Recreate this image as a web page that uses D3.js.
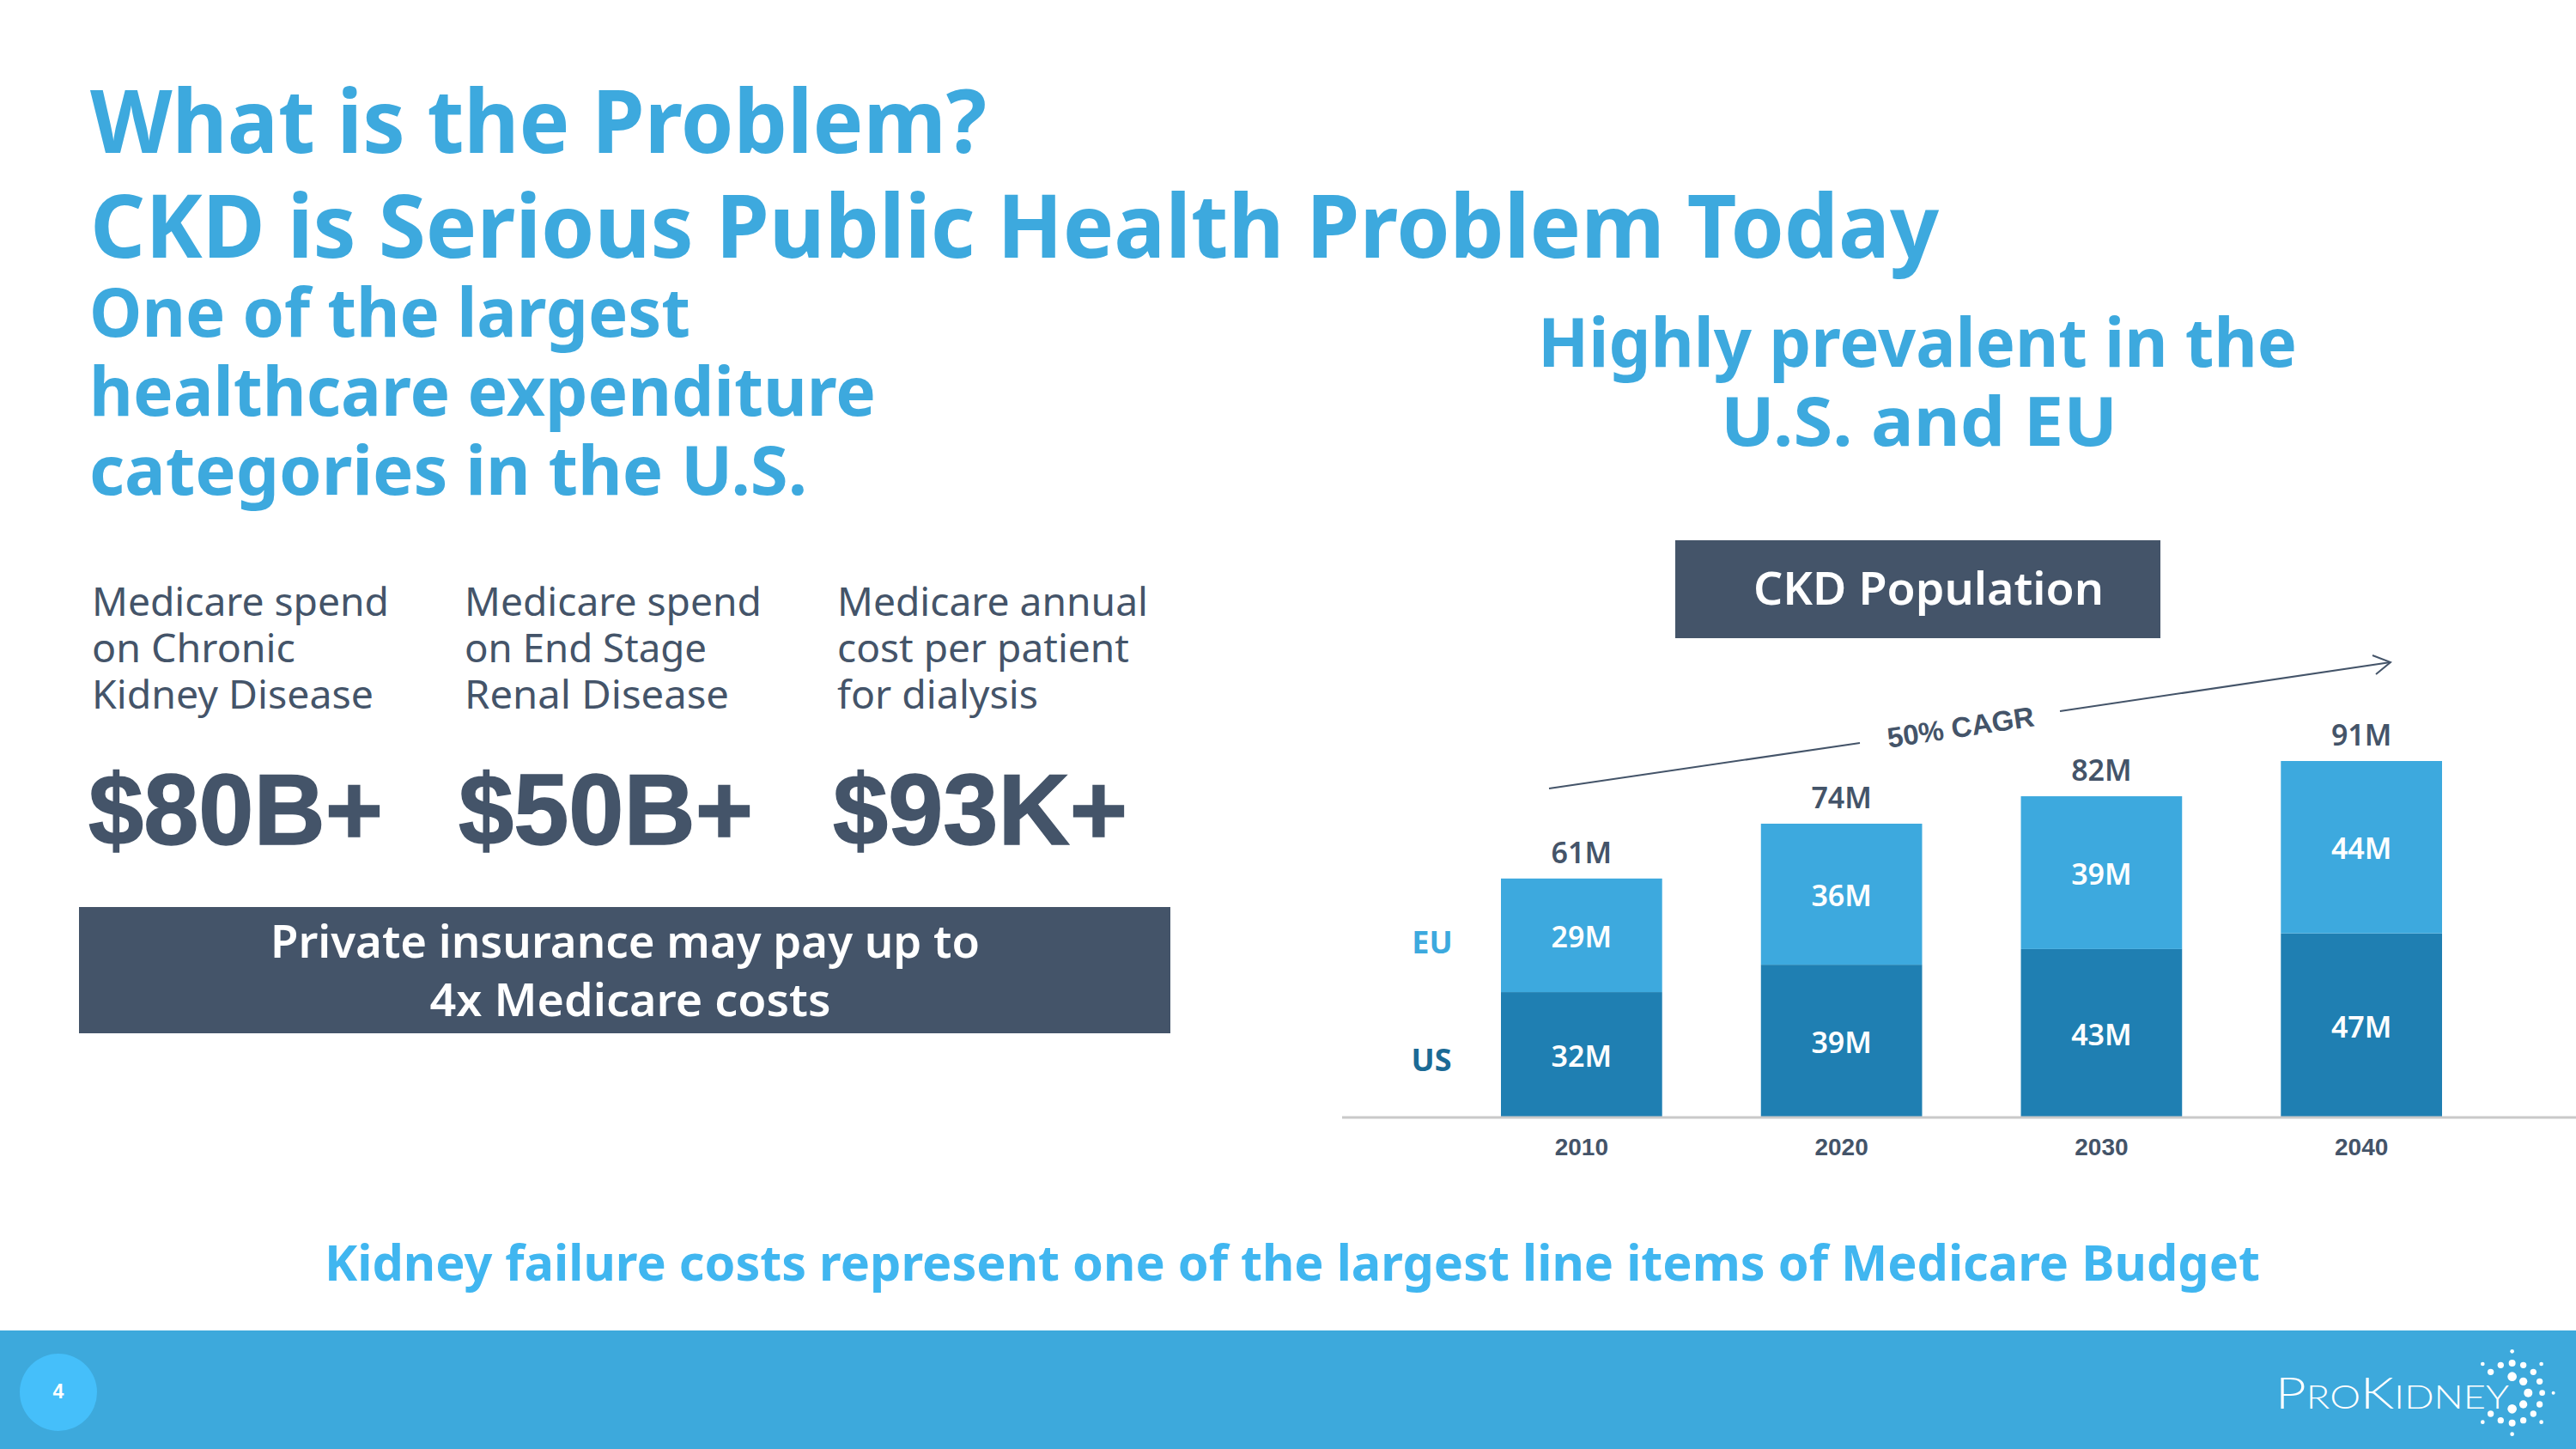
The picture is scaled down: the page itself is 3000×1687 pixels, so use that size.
<!DOCTYPE html>
<html><head><meta charset="utf-8">
<script src="https://cdn.jsdelivr.net/npm/d3@7/dist/d3.min.js"></script>
<style>html,body{margin:0;padding:0;background:#fff;overflow:hidden}svg{display:block}</style>
</head><body><svg id="c" width="3000" height="1687" viewBox="0 0 3000 1687"></svg>
<script>
const years = ["2010","2020","2030","2040"];
const usValues = [32,39,43,47];
const euValues = [29,36,39,44];
const totalLabels = ["61M","74M","82M","91M"];
const seriesNames = ["US","EU"];
const statCaptions = [
  ["Medicare spend","on Chronic","Kidney Disease"],
  ["Medicare spend","on End Stage","Renal Disease"],
  ["Medicare annual","cost per patient","for dialysis"]];
const statValues = ["$80B+","$50B+","$93K+"];

const BLUE="#3DA9DE", SLATE="#445469", DARKBLUE="#1F7FB2";
const SANS="'Noto Sans',sans-serif", ARIAL="'Liberation Sans',Arial,sans-serif";
const svg=d3.select("#c");
function T(s,x,y,o={}){
  const t=svg.append("text").attr("x",x).attr("y",y).text(s)
    .attr("font-family",o.f||SANS).attr("font-size",o.s||40).attr("font-weight",o.w||600)
    .attr("fill",o.c||BLUE).attr("text-anchor",o.a||"start");
  if(o.len) t.attr("textLength",o.len).attr("lengthAdjust","spacingAndGlyphs");
  return t;
}
// headings
T("What is the Problem?",105,178,{s:103,w:700,len:1044});
T("CKD is Serious Public Health Problem Today",105,300,{s:103,w:700,len:2153});
[["One of the largest",392,700],["healthcare expenditure",484,916],["categories in the U.S.",576,836]]
  .forEach(d=>T(d[0],104,d[1],{s:78,w:700,len:d[2]}));
T("Highly prevalent in the",2233,427,{s:78,w:700,a:"middle",len:884});
T("U.S. and EU",2235,519,{s:78,w:700,a:"middle",len:462});

// stats
const colX=[107,541,975], capW=[[346,237,328],[346,282,308],[362,340,234]];
statCaptions.forEach((c,i)=>c.forEach((l,j)=>T(l,colX[i],717+j*54,{s:46,w:400,c:SLATE,len:capW[i][j]})));
const bigX=[103,534,970];
statValues.forEach((v,i)=>T(v,bigX[i],983,{f:ARIAL,s:117,w:700,c:SLATE,len:343}).attr("stroke",SLATE).attr("stroke-width",1.5));

svg.append("rect").attr("x",92).attr("y",1056).attr("width",1271).attr("height",147).attr("fill",SLATE);
T("Private insurance may pay up to",728,1115,{s:52,c:"#fff",a:"middle",len:826});
T("4x Medicare costs",734,1183,{s:52,c:"#fff",a:"middle",len:467});

svg.append("rect").attr("x",1951).attr("y",629).attr("width",565).attr("height",114).attr("fill",SLATE);
T("CKD Population",2246,704,{s:52,c:"#fff",a:"middle",len:408});

// chart
const x=d3.scaleBand().domain(years).range([1748,2844]).paddingInner(0.38).paddingOuter(0);
const y=d3.scaleLinear().domain([0,91]).range([1301,886]);
const rows=years.map((yr,i)=>({year:yr,US:usValues[i],EU:euValues[i],total:totalLabels[i]}));
const stack=d3.stack().keys(seriesNames)(rows);
const fills={US:DARKBLUE,EU:BLUE};
svg.append("g").selectAll("g").data(stack).join("g").attr("fill",d=>fills[d.key])
  .selectAll("rect").data(d=>d).join("rect")
  .attr("x",d=>x(d.data.year)).attr("width",x.bandwidth())
  .attr("y",d=>y(d[1])).attr("height",d=>y(d[0])-y(d[1]));
stack.forEach(s=>s.forEach(d=>{
  T((d[1]-d[0])+"M",x(d.data.year)+x.bandwidth()/2,(y(d[0])+y(d[1]))/2+1,
    {s:34,c:"#fff",a:"middle"}).attr("dominant-baseline","central");
}));
stack[1].forEach(d=>T(d.data.total,x(d.data.year)+x.bandwidth()/2,y(d[1])-18,{s:34,c:SLATE,a:"middle"}));

const axis=d3.axisBottom(x).tickSize(0).tickPadding(24);
const ag=svg.append("g").attr("transform","translate(0,"+y(0)+")").call(axis);
ag.select(".domain").remove();
ag.selectAll("text").attr("font-family",ARIAL).attr("font-size",28).attr("font-weight",700).attr("fill",SLATE);
svg.append("line").attr("x1",1563).attr("x2",3000).attr("y1",y(0)).attr("y2",y(0)).attr("stroke","#c9c9c9").attr("stroke-width",3);

T("EU",1668,1110,{s:36,w:700,a:"middle"});
T("US",1667,1247,{s:36,w:700,c:"#1B6A95",a:"middle"});

// CAGR arrow
const arrow=svg.append("g").attr("fill","none").attr("stroke",SLATE).attr("stroke-width",2);
arrow.append("line").attr("x1",1804).attr("y1",918).attr("x2",2166).attr("y2",865);
arrow.append("line").attr("x1",2399).attr("y1",828).attr("x2",2784).attr("y2",771);
arrow.append("path").attr("d","M2763,763L2784,771L2767,785");
T("50% CAGR",0,0,{f:ARIAL,s:33,w:700,c:SLATE,a:"middle"}).attr("transform","translate(2285,858) rotate(-8.5)");

// footer
T("Kidney failure costs represent one of the largest line items of Medicare Budget",1505,1491,{s:58,w:700,c:"#40B6F0",a:"middle",len:2254});
svg.append("rect").attr("x",0).attr("y",1549).attr("width",3000).attr("height",138).attr("fill","#3DA9DC");
svg.append("circle").attr("cx",68).attr("cy",1621).attr("r",45).attr("fill","#45BFFA");
T("4",68,1628,{f:ARIAL,s:23,w:700,c:"#fff",a:"middle"});

// logo
const logo=svg.append("text").attr("x",2650).attr("y",1640).attr("font-family","Lato,sans-serif").attr("font-weight",300).attr("fill","#fff").attr("textLength",272).attr("lengthAdjust","spacingAndGlyphs");
[["P",52],["RO",38],["K",52],["IDNEY",38]].forEach(d=>logo.append("tspan").attr("font-size",d[1]).text(d[0]));
const dots=[[1127,100,7],[1024,144,7],[1087,148,11],[1127,141,12],[1166,148,11],[1229,144,7],[1052,172,11],[1201,172,11],[1127,188,16],[1166,205,14],[1223,205,11],[1183,245,15],[1232,245,10],[1271,245,6],[1166,285,14],[1223,285,11],[1127,301,16],[1201,318,11],[1052,318,11],[1087,341,11],[1127,350,12],[1166,341,11],[1024,347,7],[1229,347,7],[1127,389,7]];
svg.append("g").attr("transform","translate(2550,1540) scale(0.3333)").attr("fill","#fff")
  .selectAll("circle").data(dots).join("circle").attr("cx",d=>d[0]).attr("cy",d=>d[1]).attr("r",d=>d[2]);
</script></body></html>
